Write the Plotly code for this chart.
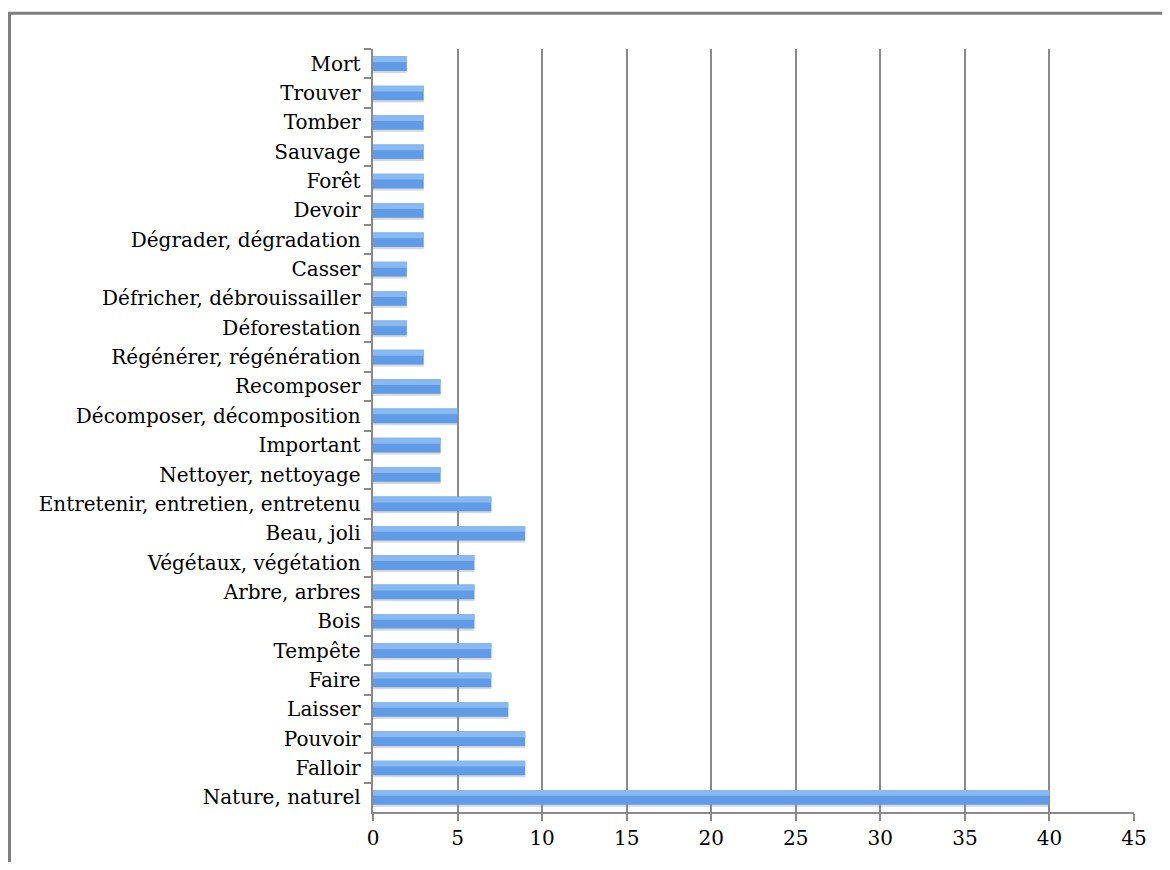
import plotly.graph_objects as go

# categories, top to bottom as in the chart
labels = ["Mort", "Trouver", "Tomber", "Sauvage", "Forêt", "Devoir",
          "Dégrader, dégradation", "Casser", "Défricher, débrouissailler",
          "Déforestation", "Régénérer, régénération", "Recomposer",
          "Décomposer, décomposition", "Important", "Nettoyer, nettoyage",
          "Entretenir, entretien, entretenu", "Beau, joli", "Végétaux, végétation",
          "Arbre, arbres", "Bois", "Tempête", "Faire", "Laisser", "Pouvoir",
          "Falloir", "Nature, naturel"]
counts = [2, 3, 3, 3, 3, 3, 3, 2, 2, 2, 3, 4, 5, 4, 4, 7, 9, 6, 6, 6, 7, 7, 8, 9, 9, 40]
x_ticks = [0, 5, 10, 15, 20, 25, 30, 35, 40, 45]

# page body has an 8px margin, keep the figure inside the window
W, H = 1154, 854
L, R, T, B = 365, 28, 41, 44
pw, ph = W - L - R, H - T - B

fig = go.Figure()
# soft shadow under each bar
fig.add_trace(go.Bar(y=labels, x=counts, orientation="h", width=0.12, offset=0.2,
                     marker=dict(color="rgba(140,140,140,0.35)", line=dict(width=0)),
                     hoverinfo="skip"))
# base bar + lighter highlight on its upper half
fig.add_trace(go.Bar(y=labels, x=counts, orientation="h", width=0.5,
                     marker=dict(color="#5F9BE6", line=dict(width=0)),
                     hoverinfo="x+y"))
fig.add_trace(go.Bar(y=labels, x=counts, orientation="h", width=0.2, offset=-0.25,
                     marker=dict(color="#88B9F0", line=dict(width=0)),
                     hoverinfo="skip"))

fig.update_layout(
    width=W, height=H,
    margin=dict(l=L, r=R, t=T, b=B, pad=0),
    paper_bgcolor="white", plot_bgcolor="white",
    barmode="overlay", showlegend=False,
    font=dict(family="DejaVu Serif", size=20, color="black"),
    xaxis=dict(range=[0, 45], tickvals=x_ticks, showgrid=True,
               gridcolor="#8a8a8a", gridwidth=2, zeroline=False,
               showline=True, linecolor="#8a8a8a", linewidth=2,
               ticks="outside", ticklen=7, tickcolor="#8a8a8a", tickwidth=2,
               tickfont=dict(size=20), fixedrange=True),
    yaxis=dict(autorange="reversed", type="category", showgrid=False,
               showline=True, linecolor="#8a8a8a", linewidth=2,
               ticks="outside", ticklen=7, tickcolor="#8a8a8a", tickwidth=2,
               tickson="boundaries", ticksuffix=" ", tickfont=dict(size=20)),
)

# outer chart frame (runs off the right and bottom edges)
bottom_px = H - B
fig.add_shape(type="rect", xref="paper", yref="paper",
              x0=(1.5 - L) / pw, x1=(W + 20 - L) / pw,
              y0=(bottom_px - (H + 20)) / ph, y1=(bottom_px - 5) / ph,
              line=dict(color="#7f7f7f", width=3), fillcolor="rgba(0,0,0,0)",
              layer="below")

fig.write_html("out.html")
